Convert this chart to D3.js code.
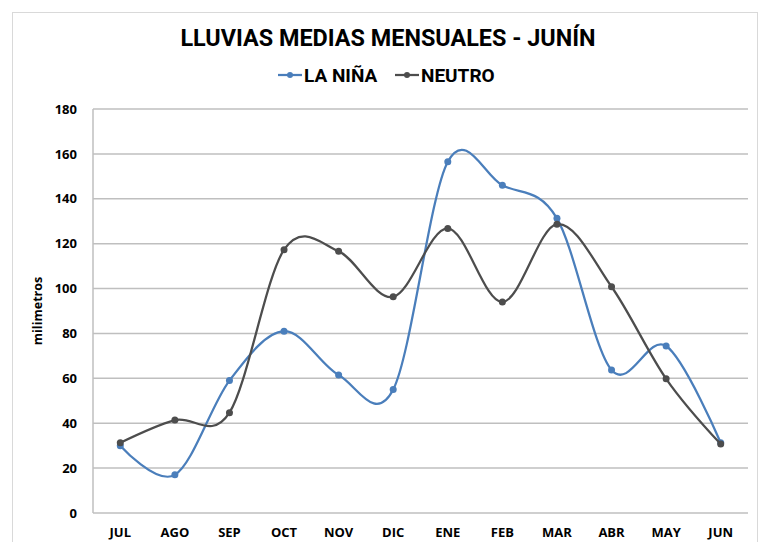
<!DOCTYPE html>
<html>
<head>
<meta charset="utf-8">
<script src="https://cdn.jsdelivr.net/npm/d3@7"></script>
<style>
  body { margin: 0; background: #fff; }
  text { font-family: "Open Sans", sans-serif; }
  .title { font-family: "Liberation Sans Narrow", "Roboto", sans-serif; }
</style>
</head>
<body>
<svg id="chart" width="760" height="542"></svg>
<script>
// data
const months = ["JUL","AGO","SEP","OCT","NOV","DIC","ENE","FEB","MAR","ABR","MAY","JUN"];
const laNina = [30, 17, 59, 81, 61.5, 55, 156.5, 146, 131.3, 63.7, 74.4, 31.3];
const neutro = [31.3, 41.4, 44.7, 117.3, 116.6, 96.3, 126.8, 94, 128.7, 100.8, 59.8, 30.7];
const yTicks = [0, 20, 40, 60, 80, 100, 120, 140, 160, 180];
const seriesNames = ["LA NIÑA", "NEUTRO"];
const colors = ["#4a7ebb", "#4d4d4d"];

const plotLeft = 93, plotRight = 748, plotTop = 109, plotBottom = 513;

const svg = d3.select("#chart");

// chart border
svg.append("rect").attr("x", 12.5).attr("y", 12.5).attr("width", 745).attr("height", 540)
  .attr("fill", "white").attr("stroke", "#d9d9d9").attr("stroke-width", 1);

const x = d3.scaleBand().domain(months).range([plotLeft, plotRight]);
const y = d3.scaleLinear().domain([0, 180]).range([plotBottom, plotTop]);

// gridlines
svg.append("g").selectAll("line").data(yTicks).enter().append("line")
  .attr("x1", plotLeft).attr("x2", plotRight)
  .attr("y1", d => y(d)).attr("y2", d => y(d))
  .attr("stroke", "#bfbfbf").attr("stroke-width", 1.5);

// left axis line
svg.append("line").attr("x1", plotLeft).attr("x2", plotLeft).attr("y1", plotTop).attr("y2", plotBottom)
  .attr("stroke", "#bfbfbf").attr("stroke-width", 1.5);

// y labels
const yAxis = d3.axisLeft(y).tickValues(yTicks).tickSize(0).tickPadding(16);
const gy = svg.append("g").attr("transform", `translate(${plotLeft},0)`).call(yAxis);
gy.select(".domain").remove();
gy.selectAll("text").attr("font-size", 13).attr("font-weight", "bold").attr("fill", "#000")
  .style("font-family", "Open Sans");

// x labels
const xAxis = d3.axisBottom(x).tickSize(0).tickPadding(15);
const gx = svg.append("g").attr("transform", `translate(0,${plotBottom})`).call(xAxis);
gx.select(".domain").remove();
gx.selectAll("text").attr("font-size", 13).attr("font-weight", "bold").attr("fill", "#000")
  .style("font-family", "Open Sans");

// y title
svg.append("text").attr("transform", `translate(42,${(plotTop + plotBottom) / 2}) rotate(-90)`)
  .attr("text-anchor", "middle").attr("font-size", 12.5).attr("font-weight", "bold")
  .text("milimetros");

// title
svg.append("text").attr("class", "title").attr("x", 388).attr("y", 46)
  .attr("text-anchor", "middle").attr("font-size", 23.4).attr("font-weight", "bold")
  .text("LLUVIAS MEDIAS MENSUALES - JUNÍN");

// lines
const line = d3.line()
  .x((d, i) => x(months[i]) + x.bandwidth() / 2)
  .y(d => y(d))
  .curve(d3.curveCardinal.tension(0));

[laNina, neutro].forEach((vals, k) => {
  svg.append("path").datum(vals).attr("d", line)
    .attr("fill", "none").attr("stroke", colors[k]).attr("stroke-width", 2.25);
  svg.append("g").selectAll("circle").data(vals).enter().append("circle")
    .attr("cx", (d, i) => x(months[i]) + x.bandwidth() / 2)
    .attr("cy", d => y(d)).attr("r", 3.5).attr("fill", colors[k]);
});

// legend
const legendX = [278, 395];
seriesNames.forEach((name, k) => {
  const g = svg.append("g").attr("transform", `translate(${legendX[k]},75)`);
  g.append("line").attr("x1", 0).attr("x2", 24).attr("stroke", colors[k]).attr("stroke-width", 2.25);
  g.append("circle").attr("cx", 12).attr("r", 3).attr("fill", colors[k]);
  g.append("text").attr("x", 26).attr("y", 7).attr("font-size", 19).attr("font-weight", "bold")
    .attr("class", "title").text(name);
});
</script>
</body>
</html>
